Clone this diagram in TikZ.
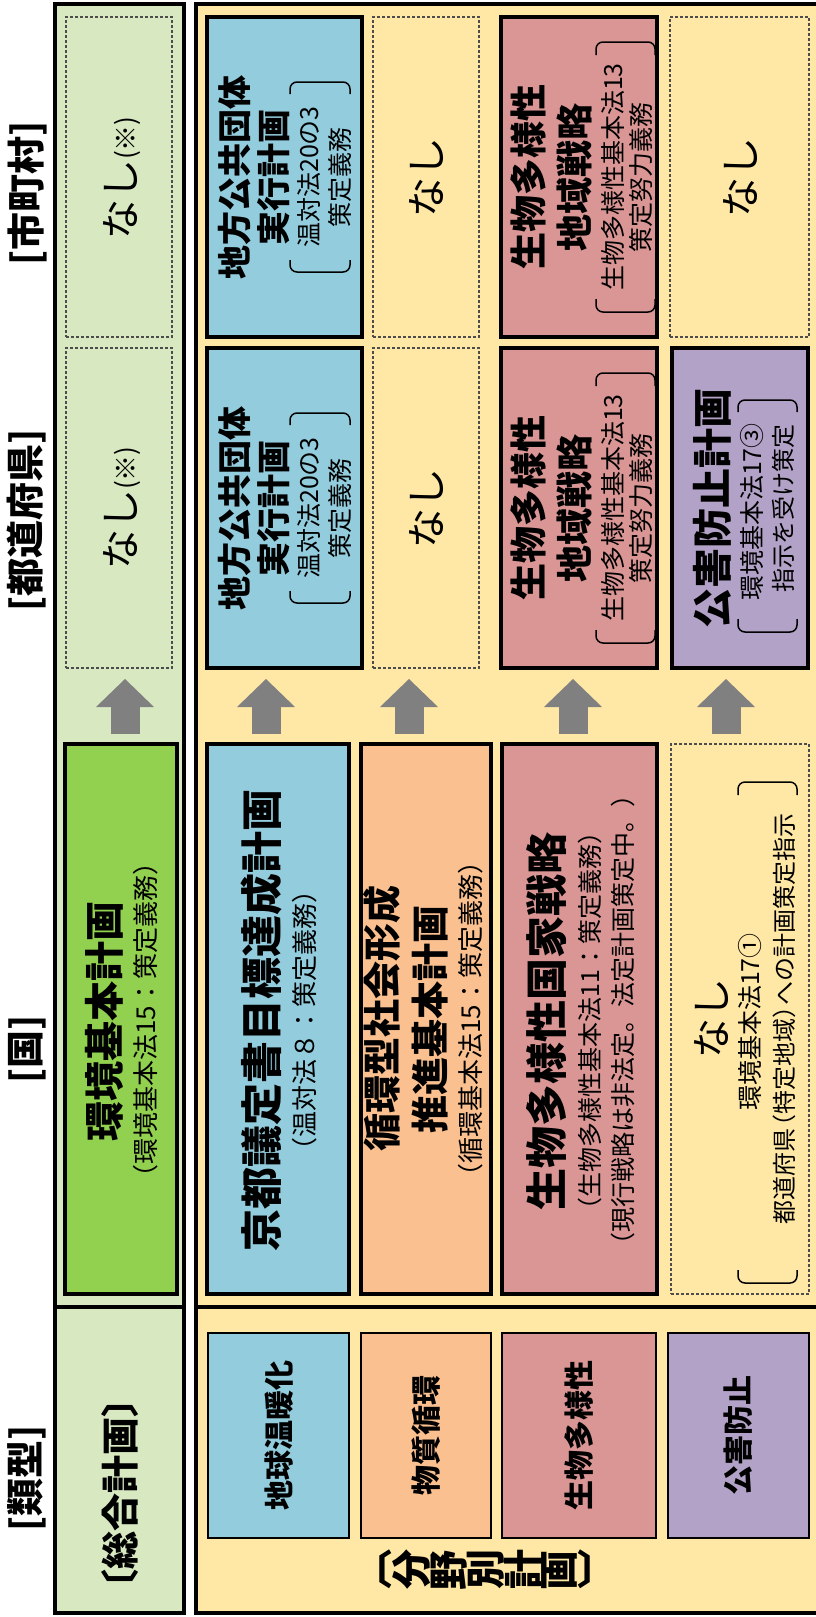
\documentclass[tikz,border=0pt]{standalone}
\usepackage{fontspec}
\setmainfont{Noto Sans CJK JP}
\usetikzlibrary{arrows.meta}
\definecolor{pgreen}{HTML}{D8E9C2}
\definecolor{pyellow}{HTML}{FFE8A6}
\definecolor{cgreen}{HTML}{92D050}
\definecolor{cblue}{HTML}{93CDDD}
\definecolor{corange}{HTML}{FAC090}
\definecolor{cred}{HTML}{D99694}
\definecolor{cpurple}{HTML}{B3A2C7}
\definecolor{agray}{HTML}{808080}
\newcommand\fsz[1]{\fontsize{#1pt}{#1pt}\selectfont}
\newcommand\mkbox[6]{\node[#1,minimum width={#4pt-#2pt},minimum height={#5pt-#3pt}] (#6) at ({(#2+#4)/2},{(#3+#5)/2}) {};}
% x1 x2 topflat toparm botflat botarm
\newcommand\bigbrk[6]{%
  \draw[brk] (#1,#4) -- (#1,#3) -- (#2,#3) -- (#2,#4);
  \draw[brk] (#1,#6) -- (#1,#5) -- (#2,#5) -- (#2,#6);}
\begin{document}
\begin{tikzpicture}[x=1pt,y=-1pt,
  bx/.style={rectangle,inner sep=0pt,outer sep=0pt},
  thick box/.style={bx,draw=black,line width=4pt},
  thin box/.style={bx,draw=black,line width=2.2pt},
  dbox/.style={bx,draw=black!70,line width=1.1pt,dash pattern=on 3pt off 2pt},
  panel/.style={bx,draw=black,line width=3.5pt},
  t/.style={rotate=90,inner sep=0pt,outer sep=0pt,align=center},
  hdr/.style={t,font={\fsz{38}\bfseries}},
  ttl/.style={t,font={\fsz{#1}\bfseries}},
  sub/.style={t,font={\fsz{#1}}},
  brk/.style={draw=black,line width=1.5pt,rounded corners=7pt},
  bigarrow/.style={draw=agray,line width=29pt,-{Triangle[width=58pt,length=28pt,line width=0pt]},shorten <=10pt,shorten >=11pt}
]
\useasboundingbox (0,0) rectangle (816,1617);
\clip (0,0) rectangle (816,1617);

% panels
\mkbox{panel,fill=pgreen}{55}{4}{184}{1613}{gpanel}
\mkbox{panel,fill=pyellow}{196}{4}{840}{1613}{ypanel}
\draw[panel] (gpanel.west |- 0,1307) -- (gpanel.east |- 0,1307);
\draw[panel] (ypanel.west |- 0,1307) -- (ypanel.east |- 0,1307);

% headers
\node[hdr] (h1) at (27,193) {[市町村]};
\node[hdr] (h2) at (27,520) {[都道府県]};
\node[hdr] (h3) at (27,1049) {[国]};
\node[hdr] (h4) at (27,1478) {[類型]};

% ---------- boxes ----------
% green column
\mkbox{dbox}{66}{17}{172}{337}{gM}
\mkbox{dbox}{66}{348}{172}{668}{gP}
\mkbox{thick box,fill=cgreen}{65}{744}{177}{1294}{gN}
% blue column
\mkbox{thick box,fill=cblue}{207}{17}{362}{337}{bM}
\mkbox{thick box,fill=cblue}{207}{348}{362}{668}{bP}
\mkbox{thick box,fill=cblue}{207}{744}{349}{1294}{bN}
\mkbox{thin box,fill=cblue}{208}{1333}{349}{1538}{bF}
% orange column
\mkbox{dbox}{373}{17}{479}{337}{oM}
\mkbox{dbox}{373}{348}{479}{668}{oP}
\mkbox{thick box,fill=corange}{361}{744}{491}{1294}{oN}
\mkbox{thin box,fill=corange}{361}{1333}{491}{1538}{oF}
% red column
\mkbox{thick box,fill=cred}{501}{17}{657}{337}{rM}
\mkbox{thick box,fill=cred}{501}{348}{657}{668}{rP}
\mkbox{thick box,fill=cred}{502}{744}{657}{1294}{rN}
\mkbox{thin box,fill=cred}{502}{1333}{656}{1538}{rF}
% purple column
\mkbox{dbox}{670}{17}{809}{337}{pM}
\mkbox{thick box,fill=cpurple}{672}{348}{808}{668}{pP}
\mkbox{dbox}{671}{744}{809}{1294}{pN}
\mkbox{thin box,fill=cpurple}{668}{1333}{809}{1538}{pF}

% ---------- arrows ----------
\foreach \n/\m/\dx/\i in {gN/gP/4/1, bN/bP/-12/2, oN/oP/-17/3, rN/rP/-6.5/4, pN/pP/-14/5}{
  \coordinate (as\i) at ([xshift=\dx pt]\n.north);
  \draw[bigarrow] (as\i) -- (as\i |- \m.south);
}

% ---------- texts ----------
% green
\node[t,font={\fsz{40}}] (tgM) at (122,178) {なし{\fsz{26}(※)}};
\node[t,font={\fsz{40}}] (tgP) at (122,508) {なし{\fsz{26}(※)}};
\node[ttl=40] (tgN1) at (104,1021) {環境基本計画};
\node[sub=26] (tgN2) at (146,1020) {（環境基本法15：策定義務）};

% blue
\foreach \c/\s in {177/M,508/P}{
  \node[ttl=34] (tb\s1) at (235,\c) {地方公共団体};
  \node[ttl=34] (tb\s2) at (274,\c) {実行計画};
  \node[sub=25] (tb\s3) at (309,\c) {温対法20の3};
  \node[sub=25] (tb\s4) at (340,\c) {策定義務};
  \bigbrk{290}{350}{\c-95}{\c-83}{\c+95}{\c+83}
}
\node[ttl=42] (tbN1) at (261,1020) {京都議定書目標達成計画};
\node[sub=26] (tbN2) at (305,1020) {（温対法８：策定義務）};

% orange
\node[t,font={\fsz{40}}] (toM) at (426,177) {なし};
\node[t,font={\fsz{40}}] (toP) at (426,508) {なし};
\node[ttl=38] (toN1) at (382,1018) {循環型社会形成};
\node[ttl=38] (toN2) at (430,1019) {推進基本計画};
\node[sub=26] (toN3) at (471,1019) {（循環基本法15：策定義務）};

% red
\foreach \c/\s in {177/M,508/P}{
  \node[ttl=37] (tr\s1) at (528,\c) {生物多様性};
  \node[ttl=37] (tr\s2) at (574,\c) {地域戦略};
  \node[sub=25] (tr\s3) at (613,\c) {生物多様性基本法13};
  \node[sub=25] (tr\s4) at (641,\c) {策定努力義務};
  \bigbrk{596}{655}{\c-135}{\c-122}{\c+135}{\c+122}
}
\node[ttl=42] (trN1) at (547,1021) {生物多様性国家戦略};
\node[sub=25] (trN2) at (590,1021) {（生物多様性基本法11：策定義務）};
\node[sub=25] (trN3) at (623,1020) {（現行戦略は非法定。法定計画策定中。）};

% purple
\node[t,font={\fsz{40}}] (tpM) at (740,177) {なし};
\node[ttl=40] (tpP1) at (712,508) {公害防止計画};
\node[sub=25] (tpP2) at (752,512) {環境基本法17③};
\node[sub=24] (tpP3) at (783,508) {指示を受け策定};
\bigbrk{738}{797}{400}{412}{632}{619}
\node[t,font={\fsz{40}}] (tpN1) at (711,1018) {なし};
\node[sub=25] (tpN2) at (750,1022) {環境基本法17①};
\node[sub=24] (tpN3) at (784,1019) {都道府県\kern-0.45em（特定地域）\kern-0.45emへの計画策定指示};
\bigbrk{738}{797}{782}{795}{1283}{1270}

% field labels
\node[ttl=30] (f1) at (279,1435) {地球温暖化};
\node[ttl=30] (f2) at (426,1435) {物質循環};
\node[ttl=30] (f3) at (579,1435) {生物多様性};
\node[ttl=30] (f4) at (738,1435) {公害防止};

% section labels
\node[ttl=38] (sg) at (120,1493) {〔総合計画〕};
\node[inner sep=0pt,font={\fsz{40}\bfseries}] (sf) at (485,1570)
  {〔\rotatebox[origin=c]{90}{分}\rotatebox[origin=c]{90}{野}\rotatebox[origin=c]{90}{別}\rotatebox[origin=c]{90}{計}\rotatebox[origin=c]{90}{画}〕};
\end{tikzpicture}
\end{document}
